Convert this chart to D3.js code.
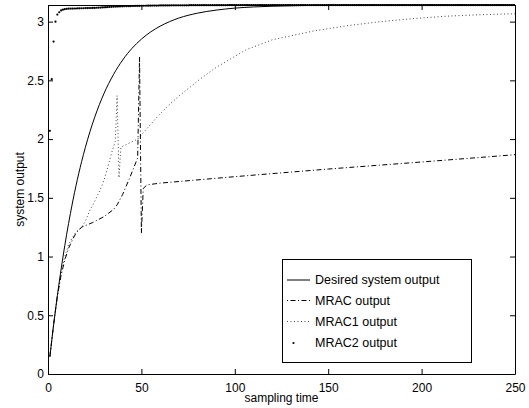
<!DOCTYPE html>
<html>
<head>
<meta charset="utf-8">
<script src="https://cdn.jsdelivr.net/npm/d3@7/dist/d3.min.js"></script>
<style>
  html, body { margin: 0; padding: 0; background: #fff; }
  svg { display: block; font-family: "Liberation Sans", Arial, Helvetica, sans-serif; }
</style>
</head>
<body>
<svg id="chart" width="529" height="408"></svg>
<script>
// Desired (reference model) response
const desiredT = [1, 2, 3, 4, 5, 6, 8, 10, 12, 15, 18, 20, 25, 30, 35, 40, 45, 50, 55, 60, 70, 80, 90, 100, 110, 120, 135, 150, 175, 200, 250];
const desiredY = [0.146, 0.285, 0.418, 0.545, 0.666, 0.781, 0.995, 1.19, 1.367, 1.604, 1.808, 1.929, 2.186, 2.389, 2.548, 2.674, 2.773, 2.851, 2.913, 2.961, 3.03, 3.072, 3.098, 3.115, 3.125, 3.131, 3.1366, 3.139, 3.1408, 3.1414, 3.1416];

// MRAC output (dash-dot)
const mracT = [1, 3, 5, 7, 9, 11, 13, 15, 18, 24, 30, 35, 37, 40, 44, 48, 49, 50, 51, 53, 60, 100, 150, 200, 250];
const mracY = [0.15, 0.42, 0.66, 0.84, 0.97, 1.07, 1.14, 1.2, 1.25, 1.29, 1.34, 1.4, 1.44, 1.53, 1.68, 1.84, 2.7, 1.2, 1.58, 1.61, 1.625, 1.68, 1.745, 1.805, 1.867];

// MRAC1 output (dotted)
const mrac1T = [1, 3, 5, 7, 9, 11, 13, 15, 18, 20, 22, 25, 28, 30, 32, 34, 36, 37, 38, 39, 44, 48, 53, 58, 64, 70, 81, 90, 106, 120, 142, 160, 178, 195, 213, 230, 250];
const mrac1Y = [0.15, 0.42, 0.66, 0.86, 1.0, 1.1, 1.16, 1.21, 1.25, 1.3, 1.38, 1.47, 1.57, 1.65, 1.76, 1.88, 1.98, 2.37, 1.67, 1.93, 1.97, 2.0, 2.09, 2.18, 2.28, 2.365, 2.506, 2.61, 2.76, 2.845, 2.92, 2.965, 3.0, 3.025, 3.046, 3.058, 3.067];

// MRAC2 output (one marker per sample, t = 1..250)
const mrac2Y = [
  2.07, 2.51, 2.83, 3.00, 3.06, 3.08, 3.095, 3.102, 3.106, 3.109,
  3.110, 3.111, 3.111, 3.112, 3.112, 3.113, 3.113, 3.114, 3.114, 3.115,
  3.115, 3.116, 3.116, 3.117, 3.117, 3.118, 3.119, 3.120, 3.121, 3.122,
  3.123, 3.124, 3.125, 3.126, 3.127, 3.128, 3.128, 3.129, 3.130, 3.130,
  3.131, 3.131, 3.132, 3.132, 3.133, 3.133, 3.134, 3.134, 3.134, 3.135,
  3.135, 3.135, 3.136, 3.136, 3.136, 3.137, 3.137, 3.137, 3.137, 3.138,
  3.138, 3.138, 3.138, 3.138, 3.138, 3.139, 3.139, 3.139, 3.139, 3.139,
  3.139, 3.139, 3.139, 3.139, 3.139, 3.140, 3.140, 3.140, 3.140, 3.140,
  3.140, 3.140, 3.140, 3.140, 3.140, 3.140, 3.140, 3.140, 3.140, 3.140,
  3.140, 3.140, 3.140, 3.140, 3.140, 3.141, 3.141, 3.141, 3.141, 3.141,
  3.141, 3.141, 3.141, 3.141, 3.141, 3.141, 3.141, 3.141, 3.141, 3.141,
  3.141, 3.141, 3.141, 3.141, 3.141, 3.141, 3.141, 3.141, 3.141, 3.141,
  3.141, 3.141, 3.141, 3.141, 3.141, 3.141, 3.141, 3.141, 3.141, 3.141,
  3.141, 3.141, 3.141, 3.141, 3.141, 3.141, 3.141, 3.141, 3.141, 3.141,
  3.141, 3.141, 3.141, 3.141, 3.141, 3.141, 3.141, 3.141, 3.141, 3.141,
  3.141, 3.141, 3.141, 3.141, 3.141, 3.141, 3.141, 3.141, 3.141, 3.141,
  3.141, 3.141, 3.141, 3.141, 3.141, 3.141, 3.141, 3.141, 3.141, 3.141,
  3.141, 3.141, 3.141, 3.141, 3.141, 3.141, 3.141, 3.141, 3.141, 3.141,
  3.141, 3.141, 3.141, 3.141, 3.141, 3.141, 3.141, 3.141, 3.141, 3.141,
  3.141, 3.141, 3.141, 3.141, 3.141, 3.141, 3.141, 3.141, 3.141, 3.141,
  3.141, 3.141, 3.141, 3.141, 3.141, 3.141, 3.141, 3.141, 3.141, 3.141,
  3.141, 3.141, 3.141, 3.141, 3.141, 3.141, 3.141, 3.141, 3.141, 3.141,
  3.141, 3.141, 3.141, 3.141, 3.141, 3.141, 3.141, 3.141, 3.141, 3.141,
  3.141, 3.141, 3.141, 3.141, 3.141, 3.141, 3.141, 3.141, 3.141, 3.141,
  3.141, 3.141, 3.141, 3.141, 3.141, 3.141, 3.141, 3.141, 3.141, 3.141
];

const xTicks = [0, 50, 100, 150, 200, 250];
const yTicks = [0, 0.5, 1, 1.5, 2, 2.5, 3];
const legendLabels = ["Desired system output", "MRAC output", "MRAC1 output", "MRAC2 output"];
const xDomain = [0, 250];
const yDomain = [0, Math.PI];

const svg = d3.select("#chart");
const margin = { left: 48, right: 14, top: 5, bottom: 34 };
const W = 529, H = 408;
const pw = W - margin.left - margin.right;
const ph = H - margin.top - margin.bottom;

const x = d3.scaleLinear().domain(xDomain).range([margin.left, margin.left + pw]);
const y = d3.scaleLinear().domain(yDomain).range([margin.top + ph, margin.top]);

svg.append("rect").attr("width", W).attr("height", H).attr("fill", "#fff");

svg.append("defs").append("clipPath").attr("id", "plotclip")
  .append("rect")
  .attr("x", margin.left).attr("y", margin.top - 1)
  .attr("width", pw).attr("height", ph + 1);

const plot = svg.append("g").attr("clip-path", "url(#plotclip)");

const zip = (ts, ys) => ts.map((t, i) => [t, ys[i]]);
const lineLinear = d3.line().x(d => x(d[0])).y(d => y(d[1]));
const lineSmooth = d3.line().x(d => x(d[0])).y(d => y(d[1])).curve(d3.curveMonotoneX);

// MRAC1 dotted
plot.append("path")
  .datum(zip(mrac1T, mrac1Y))
  .attr("d", lineLinear)
  .attr("fill", "none")
  .attr("stroke", "#444")
  .attr("stroke-width", 1)
  .attr("stroke-dasharray", "1,2.5");

// MRAC dash-dot
plot.append("path")
  .datum(zip(mracT, mracY))
  .attr("d", lineLinear)
  .attr("fill", "none")
  .attr("stroke", "#000")
  .attr("stroke-width", 1)
  .attr("stroke-dasharray", "5,2.5,1,2.5");

// Desired solid
plot.append("path")
  .datum(zip(desiredT, desiredY))
  .attr("d", lineSmooth)
  .attr("fill", "none")
  .attr("stroke", "#000")
  .attr("stroke-width", 1);

// MRAC2 markers
plot.selectAll("circle.m2")
  .data(mrac2Y.map((v, i) => [i + 1, v]))
  .join("circle")
  .attr("class", "m2")
  .attr("cx", d => x(d[0]))
  .attr("cy", d => y(d[1]))
  .attr("r", 1.1)
  .attr("fill", "#000");

// Axes (ticks point inward on all four sides)
const tickLen = 5;
const fmt = d => String(d);

const gx = svg.append("g")
  .attr("transform", `translate(0,${margin.top + ph})`)
  .call(d3.axisBottom(x).tickValues(xTicks).tickFormat(fmt).tickSizeInner(-tickLen).tickSizeOuter(0).tickPadding(9));
const gy = svg.append("g")
  .attr("transform", `translate(${margin.left},0)`)
  .call(d3.axisLeft(y).tickValues(yTicks).tickFormat(fmt).tickSizeInner(-tickLen).tickSizeOuter(0).tickPadding(4));
const gxt = svg.append("g")
  .attr("transform", `translate(0,${margin.top})`)
  .call(d3.axisTop(x).tickValues(xTicks).tickFormat("").tickSizeInner(-tickLen).tickSizeOuter(0));
const gyr = svg.append("g")
  .attr("transform", `translate(${margin.left + pw},0)`)
  .call(d3.axisRight(y).tickValues(yTicks).tickFormat("").tickSizeInner(-tickLen).tickSizeOuter(0));

[gx, gy, gxt, gyr].forEach(g => {
  g.selectAll(".domain").attr("stroke", "#000").attr("stroke-width", 1);
  g.selectAll(".tick line").attr("stroke", "#000");
  g.selectAll("text").attr("fill", "#000").style("font-size", "12px")
    .style("font-family", "'Liberation Sans', Arial, sans-serif");
});

// Axis titles
svg.append("text")
  .attr("x", margin.left + pw / 2)
  .attr("y", 402)
  .attr("text-anchor", "middle")
  .style("font-size", "12px")
  .text("sampling time");

svg.append("text")
  .attr("transform", `translate(24,${margin.top + ph / 2}) rotate(-90)`)
  .attr("text-anchor", "middle")
  .style("font-size", "12px")
  .text("system output");

// Legend
const lg = svg.append("g");
lg.append("rect")
  .attr("x", 282.5).attr("y", 259.5)
  .attr("width", 189).attr("height", 103)
  .attr("fill", "#fff").attr("stroke", "#000").attr("stroke-width", 1);

const rowY = [280, 300.5, 321.5, 343];
const sx0 = 287, sx1 = 310;
lg.append("line").attr("x1", sx0).attr("x2", sx1).attr("y1", rowY[0]).attr("y2", rowY[0])
  .attr("stroke", "#000").attr("stroke-width", 1);
lg.append("line").attr("x1", sx0).attr("x2", sx1).attr("y1", rowY[1]).attr("y2", rowY[1])
  .attr("stroke", "#000").attr("stroke-width", 1).attr("stroke-dasharray", "1,2.5,5,2.5");
lg.append("line").attr("x1", sx0).attr("x2", sx1).attr("y1", rowY[2]).attr("y2", rowY[2])
  .attr("stroke", "#444").attr("stroke-width", 1).attr("stroke-dasharray", "1,2.5");
lg.append("circle").attr("cx", 293.5).attr("cy", rowY[3]).attr("r", 1.1).attr("fill", "#000");

legendLabels.forEach((s, i) => {
  lg.append("text")
    .attr("x", 315)
    .attr("y", rowY[i])
    .attr("dy", "0.35em")
    .style("font-size", "12.5px")
    .text(s);
});
</script>
</body>
</html>
